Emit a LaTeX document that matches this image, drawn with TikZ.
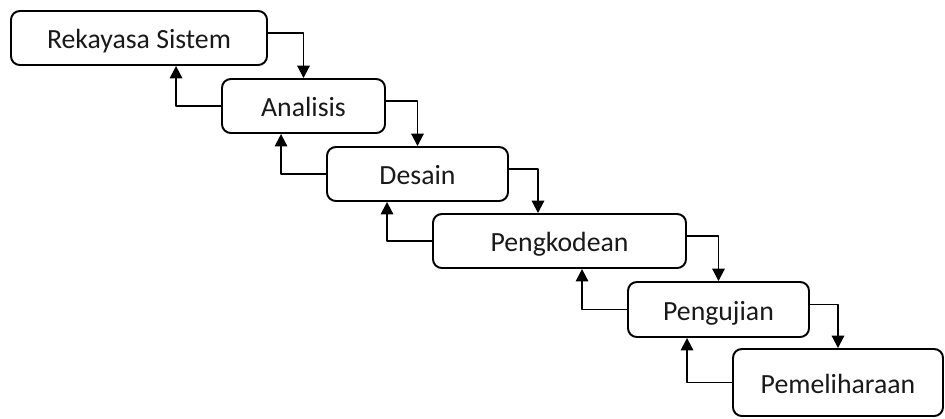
\documentclass[tikz,border=0pt]{standalone}
\usepackage{fontspec}
\setmainfont{Carlito}
\usetikzlibrary{arrows.meta}
\begin{document}
\begin{tikzpicture}[font=\fontsize{15.8}{19}\selectfont, line join=round, line width=1.1pt, >={Triangle[width=7pt,length=7pt]},
		box/.style={draw, rounded corners=5pt, inner sep=0pt, minimum height=1.08cm, text height=12.3pt, text depth=0pt, text=black!90}]
				\useasboundingbox (0,0) rectangle (18.9,-8.36);
				\node[box, minimum width=5.12cm] (rs) at (2.78,-0.76) {Rekayasa Sistem};
				\node[box, minimum width=3.26cm] (an) at (6.07,-2.12) {Analisis};
				\node[box, minimum width=3.62cm] (ds) at (8.35,-3.48) {Desain};
				\node[box, minimum width=5.06cm] (pk) at (11.19,-4.82) {Pengkodean};
				\node[box, minimum width=3.62cm, minimum height=1.1cm] (pu) at (14.37,-6.19) {Pengujian};
				\node[box, minimum width=4.2cm, minimum height=1.34cm] (pm) at (16.76,-7.65) {Pemeliharaan};
				% turun
				\draw[->] ([yshift=0.1cm]rs.east) -| (an.north);
				\draw[->] ([yshift=0.1cm]an.east) -| (ds.north);
				\draw[->] ([yshift=0.1cm]ds.east) -| ([xshift=-0.43cm]pk.north);
				\draw[->] ([yshift=0.1cm]pk.east) -| (pu.north);
				\draw[->] ([yshift=0.1cm]pu.east) -| (pm.north);
				% balik
				\draw[->] (an.west) -| ([xshift=-0.9cm]an.west |- rs.south);
				\draw[->] (ds.west) -| ([xshift=-0.9cm]ds.west |- an.south);
				\draw[->] (pk.west) -| ([xshift=-0.9cm]pk.west |- ds.south);
				\draw[->] (pu.west) -| ([xshift=-0.9cm]pu.west |- pk.south);
				\draw[->] (pm.west) -| ([xshift=-0.9cm]pm.west |- pu.south);
			\end{tikzpicture}
\end{document}
